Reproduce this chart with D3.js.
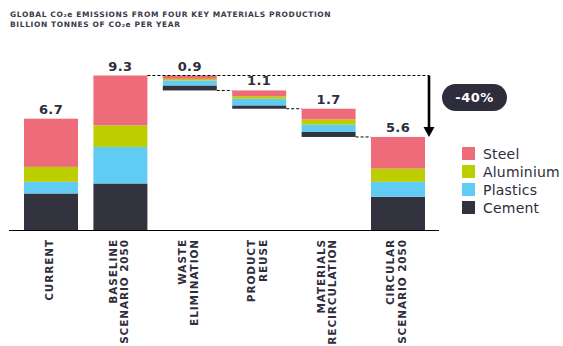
<!DOCTYPE html>
<html>
<head>
<meta charset="utf-8">
<script src="https://cdn.jsdelivr.net/npm/d3@7"></script>
<style>
  body { margin: 0; background: #fff; }
  text { font-family: "DejaVu Sans", sans-serif; }
</style>
</head>
<body>
<svg id="chart" width="563" height="346"></svg>
<script>
// categories, each split into label lines
var categories = ["CURRENT", "BASELINE SCENARIO 2050", "WASTE ELIMINATION", "PRODUCT REUSE", "MATERIALS RECIRCULATION", "CIRCULAR SCENARIO 2050"];
var labelLines = [["CURRENT"], ["BASELINE", "SCENARIO 2050"], ["WASTE", "ELIMINATION"], ["PRODUCT", "REUSE"], ["MATERIALS", "RECIRCULATION"], ["CIRCULAR", "SCENARIO 2050"]];
// "total" bars stand on zero, "step" bars hang from the running level
var kinds = ["total", "total", "step", "step", "step", "total"];
var totals = [6.7, 9.3, 0.9, 1.1, 1.7, 5.6];

// billion tonnes CO2e by material
var cement = [2.2, 2.8, 0.3, 0.2, 0.3, 2.0];
var plastics = [0.7, 2.2, 0.3, 0.4, 0.45, 0.9];
var aluminium = [0.9, 1.3, 0.1, 0.15, 0.3, 0.8];
var steel = [2.9, 3.0, 0.2, 0.35, 0.65, 1.9];

var materials = ["Steel", "Aluminium", "Plastics", "Cement"];
var reduction = "-40%";

var colors = {
    Steel: "#ee6b79",
    Aluminium: "#bccd00",
    Plastics: "#60cbf3",
    Cement: "#33323f"
};
var dark = "#2e2d3b";

var svg = d3.select("#chart");

//title
var title = svg.append("text")
    .attr("x", 10)
    .attr("y", 16.5)
    .attr("fill", "#3a3a48")
    .attr("font-size", 7.5)
    .attr("font-weight", "bold")
    .attr("letter-spacing", 0.62);
title.append("tspan").text("GLOBAL CO₂e EMISSIONS FROM FOUR KEY MATERIALS PRODUCTION");
title.append("tspan").attr("x", 10).attr("dy", 10.3).text("BILLION TONNES OF CO₂e PER YEAR");

//scales
var x = d3.scaleBand()
    .domain(categories)
    .range([24, 425])
    .paddingInner(0.222)
    .paddingOuter(0);

var y = d3.scaleLinear()
    .domain([0, 9.3])
    .range([230, 75.5]);

// build stacks bottom-up: cement, plastics, aluminium, steel
var series = { Cement: cement, Plastics: plastics, Aluminium: aluminium, Steel: steel };
var order = ["Cement", "Plastics", "Aluminium", "Steel"];

var bars = [];
var level = 0;
categories.forEach(function (c, i) {
    var base;
    if (kinds[i] == "total") {
        base = 0;
        level = totals[i];
    } else {
        base = level - totals[i];
        level = base;
    }
    var y0 = base;
    var segs = order.map(function (m) {
        var s = { cat: c, material: m, y0: y0, y1: y0 + series[m][i] };
        y0 = s.y1;
        return s;
    });
    bars.push({ cat: c, base: base, top: base + totals[i], total: totals[i], segs: segs });
});

var plot = svg.append("g");

bars.forEach(function (b) {
    plot.selectAll(null)
        .data(b.segs)
        .enter()
        .append("rect")
        .attr("x", x(b.cat))
        .attr("width", x.bandwidth())
        .attr("y", function (d) { return y(d.y1); })
        .attr("height", function (d) { return y(d.y0) - y(d.y1); })
        .attr("fill", function (d) { return colors[d.material]; });

    plot.append("text")
        .attr("x", x(b.cat) + x.bandwidth() / 2)
        .attr("y", y(b.top) - 5)
        .attr("text-anchor", "middle")
        .attr("font-size", 13)
        .attr("font-weight", "bold")
        .attr("letter-spacing", 0.4)
        .attr("fill", dark)
        .text(b.total);
});

//dashed connectors between waterfall steps
var arrowX = 429;
var dashes = [];
dashes.push({ x1: x(categories[1]) + x.bandwidth(), x2: arrowX, v: bars[1].top });
for (var i = 2; i < 5; i++) {
    dashes.push({ x1: x(categories[i]) + x.bandwidth(), x2: x(categories[i + 1]), v: bars[i].base });
}
plot.selectAll(".dash")
    .data(dashes)
    .enter()
    .append("line")
    .attr("class", "dash")
    .attr("x1", function (d) { return d.x1; })
    .attr("x2", function (d) { return d.x2; })
    .attr("y1", function (d) { return y(d.v); })
    .attr("y2", function (d) { return y(d.v); })
    .attr("stroke", "#000")
    .attr("stroke-width", 1)
    .attr("stroke-dasharray", "3,2");

//arrow from baseline level down to circular level
var arrowTop = y(bars[1].top);
var arrowTip = y(bars[5].top);
plot.append("line")
    .attr("x1", arrowX).attr("x2", arrowX)
    .attr("y1", arrowTop).attr("y2", arrowTip - 8)
    .attr("stroke", "#000")
    .attr("stroke-width", 2.6);
plot.append("path")
    .attr("d", "M" + (arrowX - 5.5) + "," + (arrowTip - 10) + "L" + (arrowX + 5.5) + "," + (arrowTip - 10) + "L" + arrowX + "," + arrowTip + "Z")
    .attr("fill", "#000");

// reduction badge
var badge = svg.append("g").attr("transform", "translate(474.5,97.5)");
badge.append("rect")
    .attr("x", -32.5).attr("y", -13.5)
    .attr("width", 65).attr("height", 27)
    .attr("rx", 13.5)
    .attr("fill", dark);
badge.append("text")
    .attr("text-anchor", "middle")
    .attr("y", 4.5)
    .attr("fill", "#fff")
    .attr("font-size", 13)
    .attr("font-weight", "bold")
    .attr("letter-spacing", 0.5)
    .text(reduction);

//axis
var range = x.range();
svg.append("line")
    .attr("x1", range[0] - 15)
    .attr("x2", range[1] + 14)
    .attr("y1", y(0) + 0.5)
    .attr("y2", y(0) + 0.5)
    .attr("stroke", "#000")
    .attr("stroke-width", 1);

var xAxis = svg.append("g")
    .attr("transform", "translate(0," + y(0) + ")")
    .call(d3.axisBottom(x).tickSize(0).tickFormat(""));
xAxis.select(".domain").remove();

xAxis.selectAll(".tick").each(function (c, i) {
    var lines = labelLines[i];
    var t = d3.select(this).append("text")
        .attr("transform", "rotate(-90)")
        .attr("text-anchor", "end")
        .attr("font-size", 10.5)
        .attr("font-weight", "bold")
        .attr("letter-spacing", 0.9)
        .attr("fill", dark);
    lines.forEach(function (line, j) {
        t.append("tspan")
            .attr("x", -9)
            .attr("y", 2 - (lines.length - 1) * 11.5 / 2 + j * 11.5)
            .text(line);
    });
});

//legend
var legend = svg.append("g").attr("transform", "translate(462,147)");
var items = legend.selectAll("g")
    .data(materials)
    .enter()
    .append("g")
    .attr("transform", function (d, i) { return "translate(0," + i * 18 + ")"; });
items.append("rect")
    .attr("width", 13)
    .attr("height", 13)
    .attr("fill", function (d) { return colors[d]; });
items.append("text")
    .attr("x", 21)
    .attr("y", 12)
    .attr("font-size", 14)
    .attr("fill", dark)
    .attr("letter-spacing", 0.2)
    .text(function (d) { return d; });
</script>
</body>
</html>
